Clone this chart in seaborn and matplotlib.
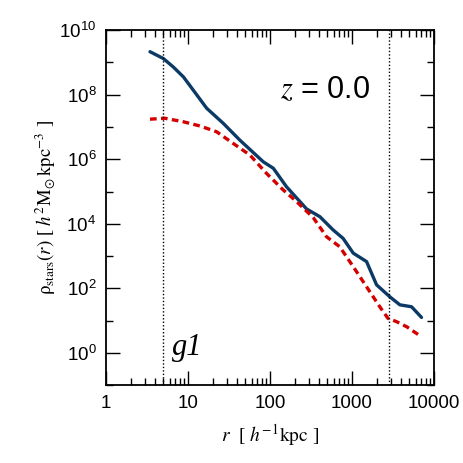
import matplotlib
matplotlib.use("Agg")
import matplotlib.pyplot as plt
import matplotlib.ticker as mticker
import seaborn as sns
import pandas as pd
import numpy as np

# stellar density profile, halo g1 at z = 0
r_total = [3.44, 5.0, 6.6, 8.8, 11.6, 16.9, 27, 43, 83, 110, 159, 280, 407,
           590, 780, 1040, 1510, 2000, 2900, 3850, 5350, 7070]
logrho_total = [9.33, 9.12, 8.86, 8.55, 8.14, 7.58, 7.11, 6.59, 5.92, 5.72, 5.15,
                4.46, 4.22, 3.81, 3.55, 3.09, 2.83, 2.11, 1.74, 1.49, 1.43, 1.10]

r_sub = [3.44, 5.2, 8.8, 14, 22.4, 35.6, 57, 91, 145, 211, 338, 490, 710,
         1040, 1510, 2190, 2760, 3500, 4670, 7070]
logrho_sub = [7.24, 7.27, 7.16, 7.03, 6.85, 6.49, 6.13, 5.56, 5.05, 4.69, 4.19,
              3.60, 3.29, 2.67, 2.05, 1.43, 1.07, 0.97, 0.81, 0.50]

r_marks = [5.0, 2850]

df_total = pd.DataFrame({"r": r_total, "rho": 10.0 ** np.array(logrho_total)})
df_sub = pd.DataFrame({"r": r_sub, "rho": 10.0 ** np.array(logrho_sub)})

sns.set_style("ticks")
plt.rcParams["font.family"] = ["Liberation Sans", "DejaVu Sans"]
plt.rcParams["mathtext.fontset"] = "stix"
plt.rcParams["text.color"] = "black"
plt.rcParams["axes.labelcolor"] = "black"
plt.rcParams["xtick.color"] = "black"
plt.rcParams["ytick.color"] = "black"
plt.rcParams["axes.edgecolor"] = "black"

fig = plt.figure(figsize=(4.63, 4.63), dpi=100)
ax = fig.add_axes([0.229, 0.168, 0.708, 0.767])

sns.lineplot(data=df_total, x="r", y="rho", ax=ax, color="#0b3a66", lw=2.4)
sns.lineplot(data=df_sub, x="r", y="rho", ax=ax, color="#d40000", lw=2.4,
             linestyle=(0, (2.0, 1.3)))
for xv in r_marks:
    ax.axvline(xv, color="black", lw=1.0, linestyle=(0, (1, 1.5)))

ax.set_xscale("log")
ax.set_yscale("log")
ax.set_xlim(1, 1e4)
ax.set_ylim(1e-1, 1e10)

ax.set_yticks([10.0 ** k for k in range(0, 11, 2)])
ax.set_yticks([10.0 ** k for k in range(-1, 10, 2)], minor=True)
ax.yaxis.set_minor_formatter(mticker.NullFormatter())
ax.yaxis.set_major_formatter(mticker.LogFormatterMathtext())
ax.set_xticks([1, 10, 100, 1000, 10000])
ax.set_xticklabels(["1", "10", "100", "1000", "10000"])
ax.xaxis.set_minor_locator(mticker.LogLocator(base=10, subs=np.arange(2, 10)))
ax.xaxis.set_minor_formatter(mticker.NullFormatter())

ax.tick_params(which="both", direction="in", top=True, right=True,
               labelsize=13.5, width=1.0)
ax.tick_params(which="major", length=10, pad=7)
ax.tick_params(which="minor", length=5)
for sp in ax.spines.values():
    sp.set_linewidth(1.3)

ax.set_xlabel(r"$r$  [ $h^{\mathrm{-1}}\mathrm{kpc}$ ]", fontsize=14,
              family="Liberation Serif", labelpad=7)
ax.set_ylabel(r"$\mathrm{\rho}_{\mathrm{stars}}(r)$ [ $h^2\mathrm{M}_{\odot}\,\mathrm{kpc}^{-3}$ ]",
              fontsize=13.5, family="Liberation Serif", labelpad=1)

ax.text(0.53, 0.83, r"$z$ = 0.0", transform=ax.transAxes, fontsize=22,
        ha="left", va="center")
ax.text(0.2, 0.105, "g1", transform=ax.transAxes, fontsize=22,
        family="Liberation Serif", style="italic", ha="left", va="center")

fig.savefig("out.png", dpi=100)
